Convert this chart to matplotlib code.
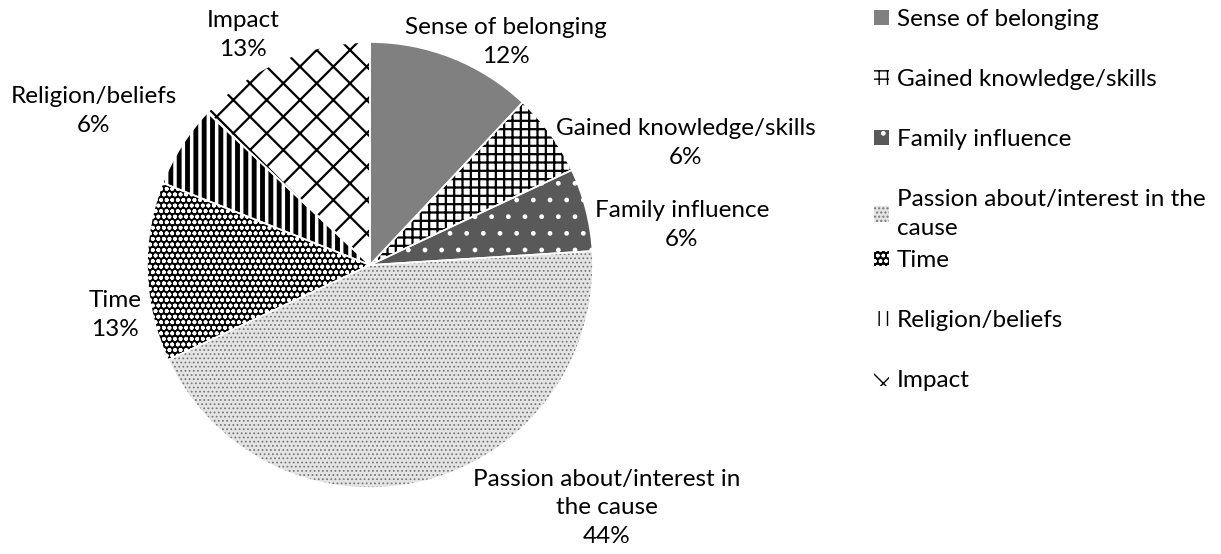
import matplotlib
matplotlib.use("Agg")
import matplotlib.pyplot as plt
from matplotlib.patches import Patch

categories = ["Sense of belonging", "Gained knowledge/skills", "Family influence",
              "Passion about/interest in the cause", "Time", "Religion/beliefs", "Impact"]
values = [12, 6, 6, 44, 13, 6, 13]
label_texts = ["Sense of belonging", "Gained knowledge/skills", "Family influence",
               "Passion about/interest in\nthe cause", "Time", "Religion/beliefs", "Impact"]
legend_texts = ["Sense of belonging", "Gained knowledge/skills", "Family influence",
                "Passion about/interest in the\ncause", "Time", "Religion/beliefs", "Impact"]

# styles: facecolor, hatch colour, hatch, hatch linewidth
styles = [
    ("#808080", "#808080", None, 1.0),
    ("#ffffff", "#000000", "++", 1.6),
    ("#595959", "#ffffff", ".", 1.0),
    ("#e4e4e4", "#7a7a7a", "....", 0.8),
    ("#000000", "#ffffff", "ooo", 1.2),
    ("#ffffff", "#000000", "||", 3.5),
    ("#ffffff", "#000000", "x", 1.6),
]

plt.rcParams['font.family'] = ['Lato', 'DejaVu Sans']
FS = 17.5

W, H = 1221, 554
fig = plt.figure(figsize=(W / 100, H / 100), dpi=100)
ax = fig.add_axes([0, 0, 1, 1])
cx, cy, R = 370, 265, 223

def px(x, y):
    return (x - cx) / R, (cy - y) / R

wedges, _ = ax.pie(values, startangle=90, counterclock=False, radius=1.0)
for w, (fc, hc, h, lw) in zip(wedges, styles):
    w.set_facecolor(fc)
    w.set_edgecolor(hc)
    w.set_linewidth(0)
    if h:
        w.set_hatch(h)
        try:
            w.set_hatch_linewidth(lw)
        except Exception:
            w._hatch_linewidth = lw

# thin white separators
sep, _ = ax.pie(values, startangle=90, counterclock=False, radius=1.0,
                wedgeprops=dict(fill=False, edgecolor='white', linewidth=1.2))

label_pos = [(506, 42), (686, 143), (682, 225), (607, 508), (115, 315), (94, 111), (243, 35)]
total = sum(values)
for txt, v, (lx, ly) in zip(label_texts, values, label_pos):
    x, y = px(lx, ly)
    ax.text(x, y, f"{txt}\n{round(100 * v / total)}%", ha='center', va='center',
            fontsize=FS, linespacing=1.42, color='black')

ax.set_xlim(-cx / R, (W - cx) / R)
ax.set_ylim((cy - H) / R, cy / R)
ax.set_aspect('auto')
ax.axis('off')

handles = []
for (fc, hc, h, lw) in styles:
    p = Patch(facecolor=fc, edgecolor=hc, hatch=h, linewidth=0)
    handles.append(p)

leg_kw = dict(frameon=False, fontsize=FS, handlelength=0.6, handleheight=0.6,
              handletextpad=0.35, borderpad=0, borderaxespad=0, labelspacing=1.61)
leg1 = fig.legend(handles[:4], legend_texts[:4], loc='upper left',
                  bbox_to_anchor=(874 / W, 1 - 9 / H), **leg_kw)
leg1.get_texts()[3].set_linespacing(1.45)
leg2 = fig.legend(handles[4:], legend_texts[4:], loc='upper left',
                  bbox_to_anchor=(874 / W, 1 - 250 / H), **leg_kw)

fig.savefig("out.png", dpi=100)
